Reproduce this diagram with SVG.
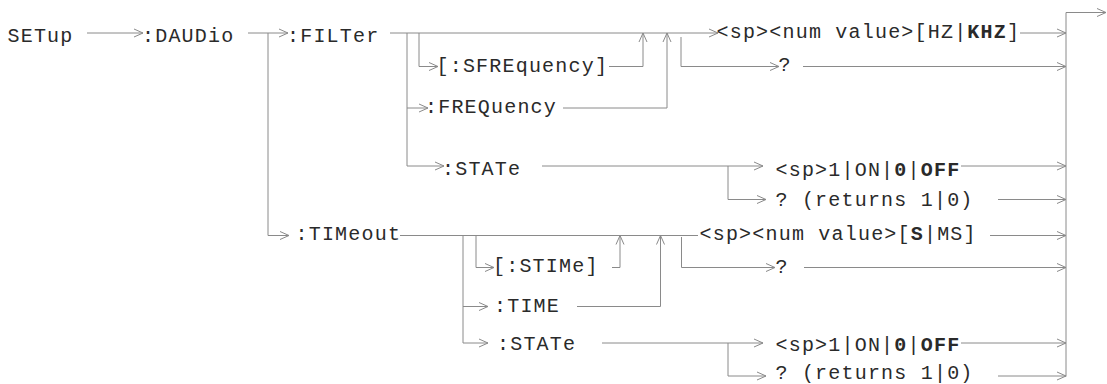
<svg xmlns="http://www.w3.org/2000/svg" width="1107" height="384" viewBox="0 0 1107 384">
<style>
text{font-family:"Liberation Mono","Courier New",monospace;font-size:20px;letter-spacing:1.2px;fill:#2a2a2a}
.b{font-weight:bold}
.c{fill:none;stroke:#8a8a8a;stroke-width:1}
.a{marker-end:url(#ar)}
</style>
<defs>
<marker id="ar" markerWidth="12" markerHeight="10" viewBox="0 0 12 10" refX="10" refY="5" orient="auto" markerUnits="userSpaceOnUse" overflow="visible">
<path d="M1,1 L10,5 L1,9" fill="none" stroke="#8a8a8a" stroke-width="1"/>
</marker>
</defs>
<rect width="1107" height="384" fill="#fff"/>
<g id="connectors">
<path class="c a" d="M87,33 H143"/>
<path class="c a" d="M248,33 H288"/>
<path class="c a" d="M268,33 V235.5 H289"/>
<path class="c a" d="M390,33 H718"/>
<path class="c a" d="M407,33 V166 H444"/>
<path class="c a" d="M407,108 H428"/>
<path class="c a" d="M419,33 V66.5 H438"/>
<path class="c a" d="M609,66.5 H643 V33"/>
<path class="c a" d="M563,108 H667 V33"/>
<path class="c a" d="M681,37 V66.5 H779"/>
<path class="c a" d="M803,66.5 H1066"/>
<path class="c a" d="M1020,33 H1066"/>
<path class="c a" d="M542,166 H763"/>
<path class="c a" d="M728,166 V199.5 H766"/>
<path class="c a" d="M961,166 H1066"/>
<path class="c a" d="M998,199.5 H1066"/>
<path class="c" d="M400,235.5 H698"/>
<path class="c a" d="M463,235.5 V343 H488"/>
<path class="c a" d="M463,306.5 H488"/>
<path class="c a" d="M476,235.5 V267.5 H494"/>
<path class="c a" d="M612,267.5 H620 V235.5"/>
<path class="c a" d="M577,306.5 H660.5 V235.5"/>
<path class="c a" d="M681.5,237 V267.5 H775"/>
<path class="c a" d="M804,267.5 H1066"/>
<path class="c a" d="M990,235.5 H1066"/>
<path class="c a" d="M602,343 H763"/>
<path class="c a" d="M728,343 V376 H766"/>
<path class="c a" d="M961,343 H1066"/>
<path class="c a" d="M998,376 H1066"/>
<path class="c a" d="M1066,376.5 V12.5 H1106"/>
</g>
<g id="n-setup"><text x="7.5" y="41.5">SETup</text></g>
<g id="n-daudio"><text x="142" y="41.5">:DAUDio</text></g>
<g id="n-filter"><text x="287" y="41.5">:FILTer</text></g>
<g id="n-sfrequency"><text x="436.5" y="71.5">[:SFREquency]</text></g>
<g id="n-frequency"><text x="425" y="113">:FREQuency</text></g>
<g id="n-fstate"><text x="442" y="175">:STATe</text></g>
<g id="n-hz"><text x="716.5" y="38">&lt;sp&gt;&lt;num value&gt;[HZ|<tspan class="b">KHZ</tspan>]</text></g>
<g id="n-fq"><text x="778.5" y="71">?</text></g>
<g id="n-fstate-val"><text x="775.5" y="175.5">&lt;sp&gt;1|ON|<tspan class="b">0</tspan>|<tspan class="b">OFF</tspan></text></g>
<g id="n-fstate-q"><text x="775.5" y="206">? (returns 1|0)</text></g>
<g id="n-timeout"><text x="295.5" y="239.5">:TIMeout</text></g>
<g id="n-stime"><text x="493" y="272">[:STIMe]</text></g>
<g id="n-time"><text x="494" y="311.5">:TIME</text></g>
<g id="n-tstate"><text x="497" y="349.5">:STATe</text></g>
<g id="n-s"><text x="699.5" y="240">&lt;sp&gt;&lt;num value&gt;[<tspan class="b">S</tspan>|MS]</text></g>
<g id="n-tq"><text x="775.5" y="273">?</text></g>
<g id="n-tstate-val"><text x="775.5" y="350.5">&lt;sp&gt;1|ON|<tspan class="b">0</tspan>|<tspan class="b">OFF</tspan></text></g>
<g id="n-tstate-q"><text x="775.5" y="379">? (returns 1|0)</text></g>
</svg>
